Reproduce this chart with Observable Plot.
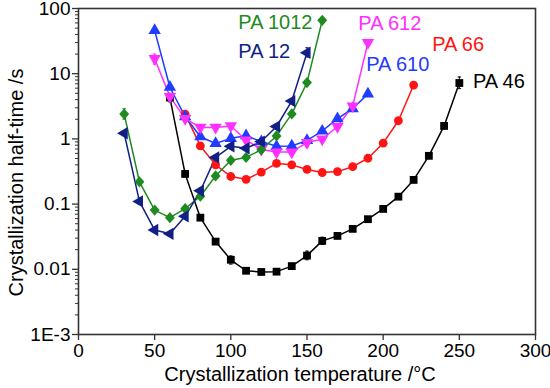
<!DOCTYPE html>
<html>
<head>
<meta charset="utf-8">
<script src="https://cdn.jsdelivr.net/npm/d3@7"></script>
<script src="https://cdn.jsdelivr.net/npm/@observablehq/plot@0.6"></script>
<style>
  html, body { margin: 0; padding: 0; background: #fff; }
</style>
</head>
<body>
<div id="chart"></div>
<script>
// ---- Data ----
const seriesNames = ["PA 46", "PA 66", "PA 610", "PA 612", "PA 1012", "PA 12"];
const seriesColors = ["#000000", "#ff1414", "#1f3cff", "#ff30ff", "#1f8a1f", "#111f86"];

const tempPA46 = [60, 70, 80, 90, 100, 110, 120, 130, 140, 150, 160, 170, 180, 190, 200, 210, 220, 230, 240, 250];
const valPA46  = [4.3, 0.29, 0.062, 0.0266, 0.014, 0.0095, 0.0091, 0.0092, 0.0112, 0.0162, 0.0273, 0.0325, 0.0417, 0.0587, 0.0844, 0.130, 0.235, 0.55, 1.58, 7.2];

const tempPA66 = [70, 80, 90, 100, 110, 120, 130, 140, 150, 160, 170, 180, 190, 200, 210, 220];
const valPA66  = [2.4, 0.78, 0.40, 0.265, 0.24, 0.31, 0.42, 0.40, 0.34, 0.305, 0.315, 0.375, 0.505, 0.86, 1.9, 6.7];

const tempPA610 = [50, 60, 70, 80, 90, 100, 110, 120, 130, 140, 150, 160, 170, 180, 190];
const valPA610  = [46, 6.2, 2.2, 1.08, 0.85, 1.02, 1.12, 0.91, 0.77, 0.78, 0.95, 1.32, 2.05, 2.9, 4.9];

const tempPA612 = [50, 60, 70, 80, 90, 100, 110, 120, 130, 140, 150, 160, 170, 180, 190];
const valPA612  = [17, 4.45, 2.05, 1.5, 1.5, 1.58, 0.96, 0.69, 0.63, 0.63, 0.88, 0.99, 1.55, 3.2, 30];

const tempPA1012 = [30, 40, 50, 60, 70, 80, 90, 100, 110, 120, 130, 140, 150, 160];
const valPA1012  = [2.4, 0.22, 0.081, 0.062, 0.085, 0.132, 0.27, 0.47, 0.52, 0.68, 1.11, 2.42, 7.3, 66];

const tempPA12 = [30, 40, 50, 60, 70, 80, 90, 100, 110, 120, 130, 140, 150];
const valPA12  = [1.22, 0.11, 0.040, 0.035, 0.065, 0.16, 0.52, 0.77, 0.72, 0.91, 1.55, 3.8, 21];

// visible error bars
const errSeries = ["PA 46", "PA 46", "PA 46", "PA 46", "PA 46", "PA 612", "PA 612", "PA 1012", "PA 12", "PA 12"];
const errTemp   = [60, 100, 150, 160, 250, 50, 150, 30, 40, 150];
const errLow    = [3.7, 0.012, 0.014, 0.024, 5.9, 14, 0.75, 2.0, 0.10, 18];
const errHigh   = [5.0, 0.016, 0.019, 0.031, 8.9, 20, 1.0, 2.9, 0.125, 25];

// series label anchors (data coordinates)
const labelX = [258.9, 232.2, 188.9, 183.7, 104.9, 104.9];
const labelY = [7.6, 27.9, 13.8, 58.6, 60, 22.1];

const xTicks = [0, 50, 100, 150, 200, 250, 300];
const yTicks = [0.001, 0.01, 0.1, 1, 10, 100];
const yTickLabels = ["1E-3", "0.01", "0.1", "1", "10", "100"];

const xTitle = "Crystallization temperature /°C";
const yTitle = "Crystallization half-time /s";

// ---- Build tables ----
const temps = [tempPA46, tempPA66, tempPA610, tempPA612, tempPA1012, tempPA12];
const vals  = [valPA46, valPA66, valPA610, valPA612, valPA1012, valPA12];
const seriesRows = seriesNames.map((name, i) =>
  temps[i].map((t, j) => ({series: name, t, v: vals[i][j]}))
);
const errRows = errSeries.map((s, i) => ({series: s, t: errTemp[i], lo: errLow[i], hi: errHigh[i], color: seriesColors[seriesNames.indexOf(s)]}));
const labelRows = seriesNames.map((s, i) => ({name: s, x: labelX[i], y: labelY[i], color: seriesColors[i]}));

// minor log ticks
const minorTicks = [];
for (const d of [0.001, 0.01, 0.1, 1, 10]) for (let k = 2; k <= 9; k++) minorTicks.push(d * k);

// ---- custom symbols ----
function tri(angle) {
  return {
    draw(ctx, size) {
      const y = -Math.sqrt(size / (Math.sqrt(3) * 3));
      const pts = [[0, 2 * y], [-Math.sqrt(3) * y, -y], [Math.sqrt(3) * y, -y]];
      const c = Math.cos(angle), s = Math.sin(angle);
      pts.forEach(([px, py], i) => {
        const X = px * c - py * s, Y = px * s + py * c;
        i ? ctx.lineTo(X, Y) : ctx.moveTo(X, Y);
      });
      ctx.closePath();
    }
  };
}
const diamondSym = {
  draw(ctx, size) {
    const h = Math.sqrt(size) * 0.72, w = h * 0.88;
    ctx.moveTo(0, -h);
    ctx.lineTo(w, 0);
    ctx.lineTo(0, h);
    ctx.lineTo(-w, 0);
    ctx.closePath();
  }
};
const capSymbol = {
  draw(ctx, size) {
    const r = Math.sqrt(size) / 2;
    ctx.moveTo(-r, 0);
    ctx.lineTo(r, 0);
  }
};
const seriesSymbols = ["square", "circle", "triangle", tri(Math.PI), diamondSym, tri(-Math.PI / 2)];
const seriesR = [4.4, 4.4, 4.6, 4.6, 4.4, 4.6];

// ---- marks ----
const marks = [];
seriesRows.forEach((rows, i) => {
  marks.push(Plot.line(rows, {x: "t", y: "v", stroke: seriesColors[i], strokeWidth: 1.5}));
});
marks.push(Plot.ruleX(errRows, {x: "t", y1: "lo", y2: "hi", stroke: "color", strokeWidth: 1}));
marks.push(Plot.dot(errRows, {x: "t", y: "lo", symbol: capSymbol, r: 2, stroke: "color", fill: "none", strokeWidth: 1}));
marks.push(Plot.dot(errRows, {x: "t", y: "hi", symbol: capSymbol, r: 2, stroke: "color", fill: "none", strokeWidth: 1}));
seriesRows.forEach((rows, i) => {
  marks.push(Plot.dot(rows, {x: "t", y: "v", symbol: seriesSymbols[i], r: seriesR[i], fill: seriesColors[i], stroke: "none"}));
});

marks.push(Plot.text(labelRows, {x: "x", y: "y", text: "name", fill: "color", textAnchor: "start", lineAnchor: "middle", fontSize: 20}));

// axes
marks.push(Plot.axisX({ticks: xTicks, tickSize: 6, tickPadding: 3, fontSize: 19, stroke: "#333", strokeWidth: 1.3, label: null, tickFormat: d => String(d)}));
marks.push(Plot.axisY({ticks: yTicks, tickSize: 6, tickPadding: 2, fontSize: 19, stroke: "#333", strokeWidth: 1.3, label: null, tickFormat: d => yTickLabels[yTicks.indexOf(d)]}));
marks.push(Plot.axisY({ticks: minorTicks, tickSize: 3, stroke: "#333", strokeWidth: 1, label: null, tickFormat: () => ""}));
marks.push(Plot.frame({stroke: "#333", strokeWidth: 1.6}));

// axis titles
marks.push(Plot.text([xTitle], {frameAnchor: "bottom", text: d => d, dx: -7, dy: 40, textAnchor: "middle", lineAnchor: "middle", fontSize: 20, fill: "#000"}));
marks.push(Plot.text([yTitle], {frameAnchor: "left", text: d => d, rotate: -90, dx: -62, dy: 11, textAnchor: "middle", lineAnchor: "middle", fontSize: 20, fill: "#000"}));

const chart = Plot.plot({
  width: 550,
  height: 388,
  marginLeft: 78,
  marginRight: 15,
  marginTop: 8,
  marginBottom: 54,
  x: {domain: [0, 300], axis: null},
  y: {type: "log", domain: [0.001, 100], axis: null},
  style: {fontFamily: "'Liberation Sans', Arial, sans-serif", background: "#fff", color: "#000", overflow: "visible"},
  marks
});
document.getElementById("chart").appendChild(chart);
</script>
</body>
</html>
